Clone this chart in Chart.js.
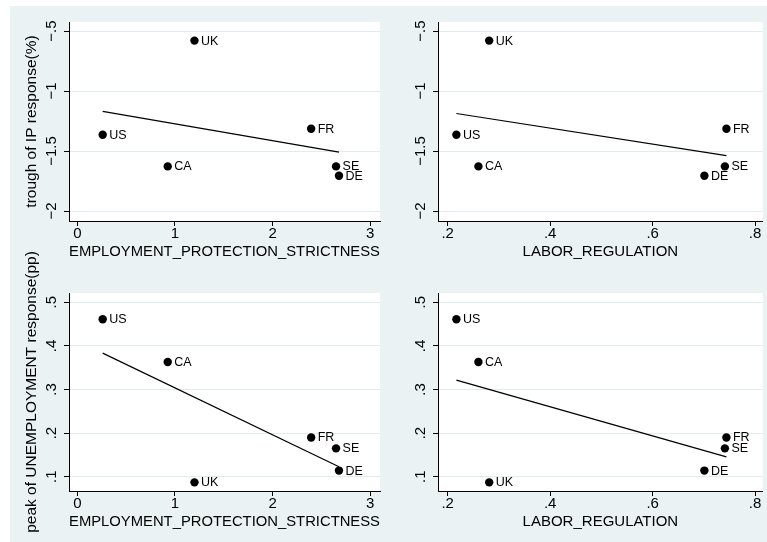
<!DOCTYPE html>
<html>
<head>
<meta charset="utf-8">
<script src="https://cdn.jsdelivr.net/npm/chart.js@4"></script>
<style>
  html, body { margin: 0; padding: 0; background: #fff; }
  #page { position: relative; width: 767px; height: 542px; overflow: hidden; background: #fff; }
  #backdrop { position: absolute; left: 10px; top: 6px; right: 0; bottom: 0; background: #EAF2F3; }
  #page canvas { position: absolute; left: 0; top: 0; pointer-events: none; }
</style>
</head>
<body>
<div id="page">
  <div id="backdrop"></div>
  <canvas id="ipEpl" width="767" height="542"></canvas>
  <canvas id="ipReg" width="767" height="542"></canvas>
  <canvas id="unEpl" width="767" height="542"></canvas>
  <canvas id="unReg" width="767" height="542"></canvas>
</div>
<script>
// Country codes and their institutional indicators
const countries = ['US', 'CA', 'UK', 'FR', 'SE', 'DE'];
const employmentProtection = [0.26, 0.926, 1.20, 2.395, 2.65, 2.68];
const laborRegulation = [0.217, 0.260, 0.281, 0.744, 0.741, 0.701];

// Responses to the shock
const ipTrough = [-1.364, -1.628, -0.58, -1.314, -1.628, -1.706];
const unemploymentPeak = [0.461, 0.363, 0.087, 0.190, 0.165, 0.114];

// Axis ticks
const eplTicks = [0, 1, 2, 3];
const regTicks = [0.2, 0.4, 0.6, 0.8];
const ipTicks = [-2, -1.5, -1, -0.5];
const unTicks = [0.1, 0.2, 0.3, 0.4, 0.5];

const FAMILY = '"Liberation Sans", Arial, Helvetica, sans-serif';
const tickFont = { family: FAMILY, size: 15, lineHeight: 1 };
const xTitleFont = { family: FAMILY, size: 15, lineHeight: 1.2 };
const yTitleFont = { family: FAMILY, size: 15.5, lineHeight: 1.2 };

// Stata-style number labels: no leading zero, true minus sign
function stataLabel(v) {
  let s = String(Math.abs(Math.round(v * 1000) / 1000));
  if (s.startsWith('0.')) s = s.slice(1);
  return (v < 0 ? '\u2212' : '') + s;
}

// Least-squares fit drawn across the observed x range
function linearFit(xs, ys) {
  const n = xs.length;
  const mx = xs.reduce((a, b) => a + b, 0) / n;
  const my = ys.reduce((a, b) => a + b, 0) / n;
  let sxy = 0, sxx = 0;
  for (let i = 0; i < n; i++) {
    sxy += (xs[i] - mx) * (ys[i] - my);
    sxx += (xs[i] - mx) * (xs[i] - mx);
  }
  const b = sxy / sxx, a = my - b * mx;
  const lo = Math.min(...xs), hi = Math.max(...xs);
  return [{ x: lo, y: a + b * lo }, { x: hi, y: a + b * hi }];
}

const measureCtx = document.createElement('canvas').getContext('2d');
function textWidth(str, font) {
  measureCtx.font = font.size + 'px ' + font.family;
  return measureCtx.measureText(str).width;
}

// White plot region behind the marks
const plotRegion = {
  id: 'plotRegion',
  beforeDraw(chart) {
    const { ctx, chartArea: a } = chart;
    ctx.save();
    ctx.fillStyle = '#ffffff';
    ctx.fillRect(a.left, a.top, a.right - a.left, a.bottom - a.top);
    ctx.restore();
  }
};

// Country names to the right of each marker
const markerLabels = {
  id: 'markerLabels',
  afterDatasetsDraw(chart) {
    const meta = chart.getDatasetMeta(0);
    const ctx = chart.ctx;
    ctx.save();
    ctx.font = '12.5px ' + FAMILY;
    ctx.fillStyle = '#000';
    ctx.textAlign = 'left';
    ctx.textBaseline = 'middle';
    meta.data.forEach((pt, i) => ctx.fillText(countries[i], pt.x + 6.5, pt.y + 0.5));
    ctx.restore();
  }
};

const Y_AXIS_WIDTH = 55;
const X_AXIS_HEIGHT = 40;
const LABEL_OFFSET = 17.3;   // distance from axis line to centre of rotated y labels

function panel(id, xs, ys, cfg) {
  const widest = Math.max(...cfg.yTicks.map(v => textWidth(stataLabel(v), tickFont)));
  const W = 767, H = 542;
  const a = cfg.area;
  new Chart(document.getElementById(id), {
    type: 'scatter',
    data: {
      datasets: [
        {
          data: xs.map((x, i) => ({ x, y: ys[i] })),
          backgroundColor: '#000',
          borderWidth: 0,
          pointRadius: 4.2,
          pointHoverRadius: 4.2
        },
        {
          data: linearFit(xs, ys),
          showLine: true,
          borderColor: '#000',
          borderWidth: 1.2,
          pointRadius: 0,
          fill: false
        }
      ]
    },
    options: {
      responsive: false,
      animation: false,
      events: [],
      layout: {
        padding: {
          left: a.left - Y_AXIS_WIDTH,
          right: W - a.right,
          top: a.top,
          bottom: H - a.bottom - X_AXIS_HEIGHT
        }
      },
      plugins: { legend: { display: false }, tooltip: { enabled: false } },
      scales: {
        x: {
          type: 'linear',
          min: cfg.xMin, max: cfg.xMax,
          afterBuildTicks: s => { s.ticks = cfg.xTicks.map(v => ({ value: v })); },
          afterFit: s => { s.height = X_AXIS_HEIGHT; },
          grid: { drawOnChartArea: false, drawTicks: true, tickLength: 5, tickColor: '#000', tickWidth: 1 },
          border: { display: true, color: '#000', width: 1 },
          ticks: {
            font: tickFont, color: '#000', padding: 0,
            minRotation: 0, maxRotation: 0, autoSkip: false,
            callback: v => stataLabel(v)
          },
          title: { display: true, text: cfg.xTitle, font: xTitleFont, color: '#000', padding: { top: 0, bottom: 0 } }
        },
        y: {
          type: 'linear',
          min: cfg.yMin, max: cfg.yMax,
          afterBuildTicks: s => { s.ticks = cfg.yTicks.map(v => ({ value: v })); },
          afterFit: s => { s.width = Y_AXIS_WIDTH; },
          grid: { color: '#E2EBED', lineWidth: 1, drawTicks: true, tickLength: 5, tickColor: '#000', tickWidth: 1 },
          border: { display: true, color: '#000', width: 1 },
          ticks: {
            font: tickFont, color: '#000',
            minRotation: 90, maxRotation: 90, crossAlign: 'center',
            padding: LABEL_OFFSET - 5 - widest / 2,
            autoSkip: false,
            callback: v => stataLabel(v)
          },
          title: cfg.yTitle
            ? { display: true, text: cfg.yTitle, font: yTitleFont, color: '#000', padding: { top: 8.7, bottom: 0 } }
            : { display: false }
        }
      }
    },
    plugins: [plotRegion, markerLabels]
  });
}

const eplRange = { xMin: -0.085, xMax: 3.1, xTicks: eplTicks, xTitle: 'EMPLOYMENT_PROTECTION_STRICTNESS' };
const regRange = { xMin: 0.1811, xMax: 0.815, xTicks: regTicks, xTitle: 'LABOR_REGULATION' };
const ipRange = { yMin: -2.083, yMax: -0.425, yTicks: ipTicks };
const unRange = { yMin: 0.0672, yMax: 0.5213, yTicks: unTicks };

panel('ipEpl', employmentProtection, ipTrough, Object.assign({}, eplRange, ipRange, {
  yTitle: 'trough of IP response(%)',
  area: { left: 69, right: 380, top: 22, bottom: 221 }
}));
panel('ipReg', laborRegulation, ipTrough, Object.assign({}, regRange, ipRange, {
  area: { left: 438, right: 763, top: 22, bottom: 221 }
}));
panel('unEpl', employmentProtection, unemploymentPeak, Object.assign({}, eplRange, unRange, {
  yTitle: 'peak of UNEMPLOYMENT response(pp)',
  area: { left: 69, right: 380, top: 293, bottom: 491 }
}));
panel('unReg', laborRegulation, unemploymentPeak, Object.assign({}, regRange, unRange, {
  area: { left: 438, right: 763, top: 293, bottom: 491 }
}));
</script>
</body>
</html>
